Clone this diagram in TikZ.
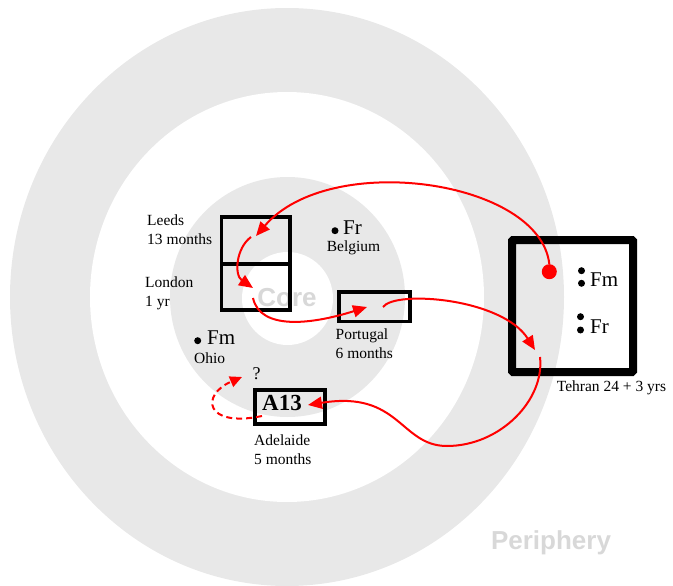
\documentclass[tikz,border=0pt]{standalone}
\usepackage{fontspec}
\setmainfont{Liberation Serif}
\newfontfamily\ghostsans{Liberation Sans}
\usetikzlibrary{arrows.meta}
\definecolor{ring}{RGB}{232,232,232}
\definecolor{ghost}{RGB}{216,216,216}
\definecolor{arrowred}{RGB}{255,0,0}
\begin{document}
\begin{tikzpicture}[x=1pt,y=-1pt,
  lbl/.style={inner sep=0pt, anchor=west, align=left, font=\fontsize{15.5}{19}\selectfont},
  big/.style={inner sep=0pt, anchor=west, font=\fontsize{21}{24}\selectfont},
  dot/.style={circle, fill=black, inner sep=0pt, minimum size=7pt},
  box/.style={draw, line width=3.5pt, inner sep=0pt},
  flow/.style={draw=arrowred, line width=2pt, -{Triangle[length=14pt,width=12pt]}},
  ghosttext/.style={text=ghost, font=\ghostsans\bfseries\fontsize{26}{30}\selectfont}
]
\useasboundingbox (0,0) rectangle (673,586);
% rings
\fill[ring] (287,297) ellipse [x radius=277pt, y radius=289pt];
\fill[white] (287,297) ellipse [x radius=197pt, y radius=205pt];
\fill[ring] (287.5,297) ellipse [x radius=117.5pt, y radius=120pt];
\fill[white] (287.5,298.5) ellipse [x radius=45.5pt, y radius=46.5pt];
\node[ghosttext] (core) at (287,298) {Core};
\node[ghosttext] (periphery) at (551,543) {Periphery};
% boxes
\node[box, minimum width=68.5pt, minimum height=47pt] (leeds) at (255.75,240.5) {};
\node[box, minimum width=68.5pt, minimum height=46pt] (london) at (255.75,287) {};
\node[box, minimum width=71.25pt, minimum height=29.5pt] (portugal) at (374.4,306.5) {};
\node[box, line width=4pt, minimum width=70pt, minimum height=34.3pt] (adelaide) at (290,406.85) {};
\node[draw, line width=8pt, rounded corners=1pt, minimum width=121pt, minimum height=132pt, inner sep=0pt] (tehran) at (572.5,306) {};
% labels
\node[lbl] (leedsl) at (147,229.5) {Leeds\\13 months};
\node[lbl] (londonl) at (145,293.5) {London\\1 yr};
\node[lbl] (portugall) at (335.5,344) {Portugal\\6 months};
\node[lbl] (adelaidel) at (254,449.5) {Adelaide\\5 months};
\node[lbl] (ohiol) at (194,358) {Ohio};
\node[lbl] (belgiuml) at (326.7,248) {Belgium};
\node[lbl] (tehranl) at (556.7,388) {Tehran 24 + 3 yrs};
% dots and letters
\node[dot] (d1) at (335,230.7) {};
\node[big] (fr1) at (343,228) {Fr};
\node[dot] (d2) at (197.7,340.7) {};
\node[big] (fm1) at (207,337.7) {Fm};
\node[dot] (d3) at (581.5,270.7) {};
\node[dot] (d4) at (581.5,283.3) {};
\node[big] (fm2) at (590,280) {Fm};
\node[dot] (d5) at (580.5,316.7) {};
\node[dot] (d6) at (580.5,330) {};
\node[big] (fr2) at (590,327) {Fr};
\node[inner sep=0pt, font=\fontsize{18}{20}\selectfont] (q) at (256.7,373.3) {?};
\node[inner sep=0pt, font=\bfseries\fontsize{23}{26}\selectfont] (a13) at (282,403) {A13};
\node[circle, fill=arrowred, inner sep=0pt, minimum size=15pt] (start) at (549.3,271.7) {};
% connector ends
\coordinate (leedsin) at (256,236);
\coordinate (leedsout) at (251,237);
\coordinate (londonin) at (253,288);
\coordinate (londonout) at (253,298);
\coordinate (portugalin) at (367,307);
\coordinate (portugalout) at (383,307);
\coordinate (tehranin) at (535,350);
\coordinate (tehranout) at (540,357);
\coordinate (adelaidein) at (308,405);
\coordinate (adelaideout) at (262,416);
\coordinate (qin) at (242,377);
% connectors
\draw[flow] (start.north) .. controls (540,180) and (330,150) .. (leedsin);
\draw[flow] (leedsout) .. controls (236,248) and (234,275) .. (londonin);
\draw[flow] (londonout) .. controls (260,330) and (310,325) .. (portugalin);
\draw[flow] (portugalout) .. controls (395,290) and (502,298) .. (tehranin);
\draw[flow] (tehranout) .. controls (545,400) and (500,446) .. (447,446) .. controls (400,446) and (400,390) .. (adelaidein);
\draw[draw=arrowred, line width=2pt, dash pattern=on 6pt off 4pt, -{Triangle[length=12pt,width=11pt]}] (adelaideout) .. controls (205,428) and (200,395) .. (qin);
\end{tikzpicture}
\end{document}
